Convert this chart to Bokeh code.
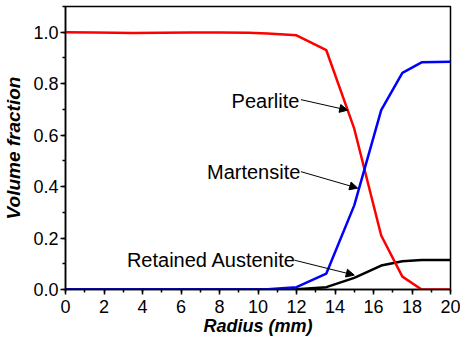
from bokeh.plotting import figure
from bokeh.models import (Range1d, SingleIntervalTicker, Arrow, NormalHead,
                          Label, NumeralTickFormatter)
from bokeh.embed import file_html
from bokeh.resources import INLINE

# ---- data ----
radius = [0, 1.5, 3.5, 5, 6.5, 8, 9.5, 10.5, 12.0, 13.55, 15.0, 16.4, 17.5, 18.5, 20]
pearlite = [1.0, 0.999, 0.997, 0.998, 0.999, 0.999, 0.998, 0.995, 0.988, 0.93,
            0.625, 0.21, 0.05, 0.0, 0.0]
martensite = [0, 0, 0, 0, 0, 0, 0, 0.001, 0.009, 0.062, 0.327, 0.697, 0.842,
              0.883, 0.885]
austenite = [0, 0, 0, 0, 0, 0, 0, 0, 0.001, 0.009, 0.045, 0.093, 0.11, 0.115, 0.115]

label_text = ["Pearlite", "Martensite", "Retained Austenite"]
label_x = [12.15, 12.2, 11.97]
label_y = [0.731, 0.458, 0.114]
arrow_x0 = [12.23, 12.23, 11.89]
arrow_y0 = [0.738, 0.458, 0.114]
arrow_x1 = [14.66, 15.18, 15.0]
arrow_y1 = [0.697, 0.394, 0.056]

x_ticks_interval = 2
y_ticks_interval = 0.2

FONT = "Liberation Sans"

p = figure(width=460, height=338, output_backend="svg", toolbar_location=None,
           x_range=Range1d(0, 20), y_range=Range1d(0, 1.1),
           min_border_left=65, min_border_right=10, min_border_top=6,
           min_border_bottom=49)
p.background_fill_color = "white"
p.border_fill_color = "white"
p.outline_line_color = "black"
p.outline_line_width = 1.5
p.grid.visible = False

p.line(radius, austenite, line_color="black", line_width=2.5)
p.line(radius, pearlite, line_color="#ff0000", line_width=2.5)
p.line(radius, martensite, line_color="#0000ff", line_width=2.5)

for ax in (p.xaxis[0], p.yaxis[0]):
    ax.axis_line_width = 1.5
    ax.major_tick_in = 0
    ax.major_tick_out = 5
    ax.minor_tick_in = 0
    ax.minor_tick_out = 3
    ax.major_tick_line_width = 1.5
    ax.minor_tick_line_width = 1.5
    ax.major_label_text_font = FONT
    ax.major_label_text_font_size = "18px"
    ax.major_label_text_color = "black"
    ax.axis_label_text_font = FONT
    ax.axis_label_text_font_style = "bold italic"
    ax.axis_label_text_color = "black"

p.xaxis[0].ticker = SingleIntervalTicker(interval=x_ticks_interval, num_minor_ticks=2)
p.yaxis[0].ticker = SingleIntervalTicker(interval=y_ticks_interval, num_minor_ticks=2)
p.yaxis[0].formatter = NumeralTickFormatter(format="0.0")
p.xaxis[0].axis_label = "Radius (mm)"
p.yaxis[0].axis_label = "Volume fraction"
p.xaxis[0].axis_label_text_font_size = "18px"
p.yaxis[0].axis_label_text_font_size = "19px"
p.xaxis[0].major_label_standoff = 5
p.yaxis[0].major_label_standoff = 2
p.xaxis[0].axis_label_standoff = 0
p.yaxis[0].axis_label_standoff = 6

for t, x, y in zip(label_text, label_x, label_y):
    p.add_layout(Label(x=x, y=y, text=t, text_align="right",
                       text_baseline="alphabetic", text_font=FONT,
                       text_font_size="20px", text_color="black"))

for x0, y0, x1, y1 in zip(arrow_x0, arrow_y0, arrow_x1, arrow_y1):
    p.add_layout(Arrow(end=NormalHead(size=8, fill_color="black",
                                      line_color="black", line_width=1),
                       x_start=x0, y_start=y0, x_end=x1, y_end=y1,
                       line_color="black", line_width=1))

open("out.html", "w").write(file_html(p, INLINE))
